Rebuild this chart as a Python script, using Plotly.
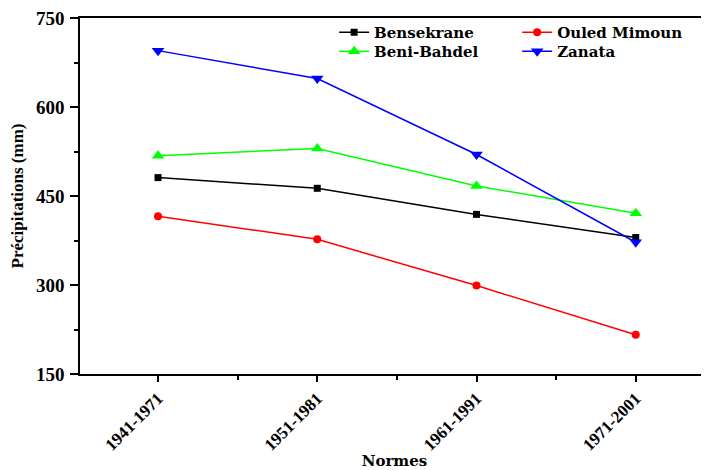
import plotly.graph_objects as go

categories = ["1941-1971", "1951-1981", "1961-1991", "1971-2001"]
bensekrane = [481, 463, 419, 380]
ouled_mimoun = [416, 377, 299, 216]
beni_bahdel = [518, 530, 467, 421]
zanata = [695, 648, 520, 372]

x = list(range(1, len(categories) + 1))
TICKFONT = "Liberation Serif, Times New Roman, serif"
TEXTFONT = "DejaVu Serif, serif"

fig = go.Figure()
series = [
    ("Bensekrane", bensekrane, "#000000", "square", 7, "legend"),
    ("Ouled Mimoun", ouled_mimoun, "#FF0000", "circle", 8, "legend2"),
    ("Beni-Bahdel", beni_bahdel, "#00FF00", "triangle-up", 11, "legend3"),
    ("Zanata", zanata, "#0000FF", "triangle-down", 11, "legend4"),
]
for name, vals, col, sym, sz, lg in series:
    fig.add_trace(go.Scatter(
        x=x, y=vals, name=name, mode="lines+markers",
        line=dict(color=col, width=1.5),
        marker=dict(color=col, symbol=sym, size=sz),
        legend=lg,
    ))

legend_common = dict(
    font=dict(family=TEXTFONT, size=15, color="black", weight="bold"),
    bgcolor="rgba(0,0,0,0)", yanchor="top", xanchor="left",
    orientation="v", tracegroupgap=0,
)
row1, row2 = 1.0056, 0.952
col1, col2 = 0.404, 0.695
fig.update_layout(
    width=701, height=462,
    margin=dict(l=72, r=0, t=10, b=96),
    paper_bgcolor="white", plot_bgcolor="white",
    font=dict(family=TICKFONT, color="black"),
    showlegend=True,
    legend=dict(x=col1, y=row1, **legend_common),
    legend2=dict(x=col2, y=row1, **legend_common),
    legend3=dict(x=col1, y=row2, **legend_common),
    legend4=dict(x=col2, y=row2, **legend_common),
)
fig.update_xaxes(
    range=[0.51, 4.46], automargin=False,
    tickvals=x, ticktext=categories, tickangle=-45,
    tickfont=dict(family=TICKFONT, size=17, color="black", weight="bold"),
    ticks="outside", ticklen=6, tickwidth=1.5, tickcolor="black",
    minor=dict(tickvals=[1.5, 2.5, 3.5], ticks="outside", ticklen=4, tickwidth=1.5, tickcolor="black"),
    showline=True, linecolor="black", linewidth=1.5, mirror=True,
    showgrid=False, zeroline=False,
    title=dict(text="Normes", font=dict(family=TEXTFONT, size=15, color="black", weight="bold"), standoff=4),
)
fig.update_yaxes(
    range=[150, 750], dtick=150, tick0=150, automargin=False,
    tickfont=dict(family=TICKFONT, size=19, color="black", weight="bold"),
    ticks="outside", ticklen=8, tickwidth=1.5, tickcolor="black", ticklabelstandoff=2,
    ticklabeloverflow="allow",
    minor=dict(dtick=75, tick0=150, ticks="outside", ticklen=4, tickwidth=1.5, tickcolor="black"),
    showline=True, linecolor="black", linewidth=1.5,
    showgrid=False, zeroline=False,
    title=dict(text="Précipitations (mm)", font=dict(family=TICKFONT, size=17, color="black", weight="bold"), standoff=13),
)
fig.write_html("out.html")
